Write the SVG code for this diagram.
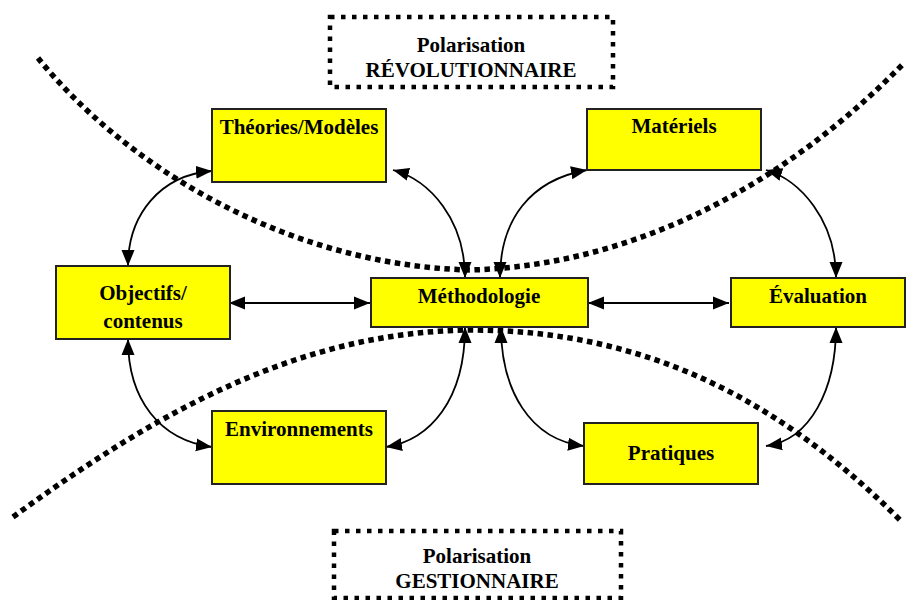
<svg xmlns="http://www.w3.org/2000/svg" width="910" height="600" viewBox="0 0 910 600">
<style>
.bg{fill:#ffffff}
.node{fill:#ffff00;stroke:#222222;stroke-width:2}
.lbl{font-weight:bold;font-size:21px;fill:#000;text-anchor:middle}
.pole{fill:none;stroke:#000;stroke-width:4.5;stroke-dasharray:4.5 6.5}
.split{fill:none;stroke:#000;stroke-width:5.5;stroke-dasharray:5.5 4.5}
.conn{fill:none;stroke:#000;stroke-width:1.8;marker-start:url(#ah);marker-end:url(#ah)}
</style>
<defs>
<marker id="ah" viewBox="0 0 16 14" refX="16" refY="7" markerWidth="16" markerHeight="14" markerUnits="userSpaceOnUse" orient="auto-start-reverse">
<path d="M0,0.5 L16,7 L0,13.5 z" fill="#000"/>
</marker>
</defs>
<rect class="bg" x="0" y="0" width="910" height="600"/>

<g id="polarisation-curves">
<path class="split" d="M38,58 C120,160 280,265 470,270 C650,265 800,170 905,62"/>
<path class="split" d="M13,517 C160,410 300,332 470,330 C620,330 760,380 900,520"/>
</g>

<g font-family="'Liberation Serif', 'Times New Roman', 'DejaVu Serif', serif">
<g id="pole-revolutionnaire">
<rect class="pole" x="330" y="17" width="283" height="70"/>
<text class="lbl" x="471" y="52">Polarisation</text>
<text class="lbl" x="471" y="77">RÉVOLUTIONNAIRE</text>
</g>
<g id="pole-gestionnaire">
<rect class="pole" x="334" y="531" width="287" height="67"/>
<text class="lbl" x="477" y="563">Polarisation</text>
<text class="lbl" x="477" y="588">GESTIONNAIRE</text>
</g>

<g id="connectors">
<path class="conn" d="M212,171 C160,175 128,215 128,266"/>
<path class="conn" d="M393,170 C430,180 465,220 465,278"/>
<path class="conn" d="M500,278 C500,220 530,180 587,170"/>
<path class="conn" d="M766,170 C800,180 836,220 836,278"/>
<path class="conn" d="M229,303 L370,303"/>
<path class="conn" d="M588,303 L729,303"/>
<path class="conn" d="M128,339 C128,400 160,440 212,447"/>
<path class="conn" d="M386,447 C430,440 465,400 465,327"/>
<path class="conn" d="M501,327 C501,390 530,440 584,446"/>
<path class="conn" d="M836,327 C836,390 810,440 766,446"/>
</g>

<g id="theories">
<rect class="node" x="212" y="109" width="174" height="73"/>
<text class="lbl" x="299" y="134">Théories/Modèles</text>
</g>
<g id="materiels">
<rect class="node" x="587" y="109" width="174" height="61"/>
<text class="lbl" x="674" y="133">Matériels</text>
</g>
<g id="objectifs">
<rect class="node" x="56" y="266" width="174" height="73"/>
<text class="lbl" x="143" y="300">Objectifs/</text>
<text class="lbl" x="143" y="328">contenus</text>
</g>
<g id="methodologie">
<rect class="node" x="371" y="278" width="217" height="49"/>
<text class="lbl" x="479" y="303">Méthodologie</text>
</g>
<g id="evaluation">
<rect class="node" x="731" y="278" width="174" height="49"/>
<text class="lbl" x="818" y="303">Évaluation</text>
</g>
<g id="environnements">
<rect class="node" x="212" y="411" width="174" height="73"/>
<text class="lbl" x="299" y="436">Environnements</text>
</g>
<g id="pratiques">
<rect class="node" x="584" y="423" width="174" height="61"/>
<text class="lbl" x="671" y="460">Pratiques</text>
</g>
</g>
</svg>
